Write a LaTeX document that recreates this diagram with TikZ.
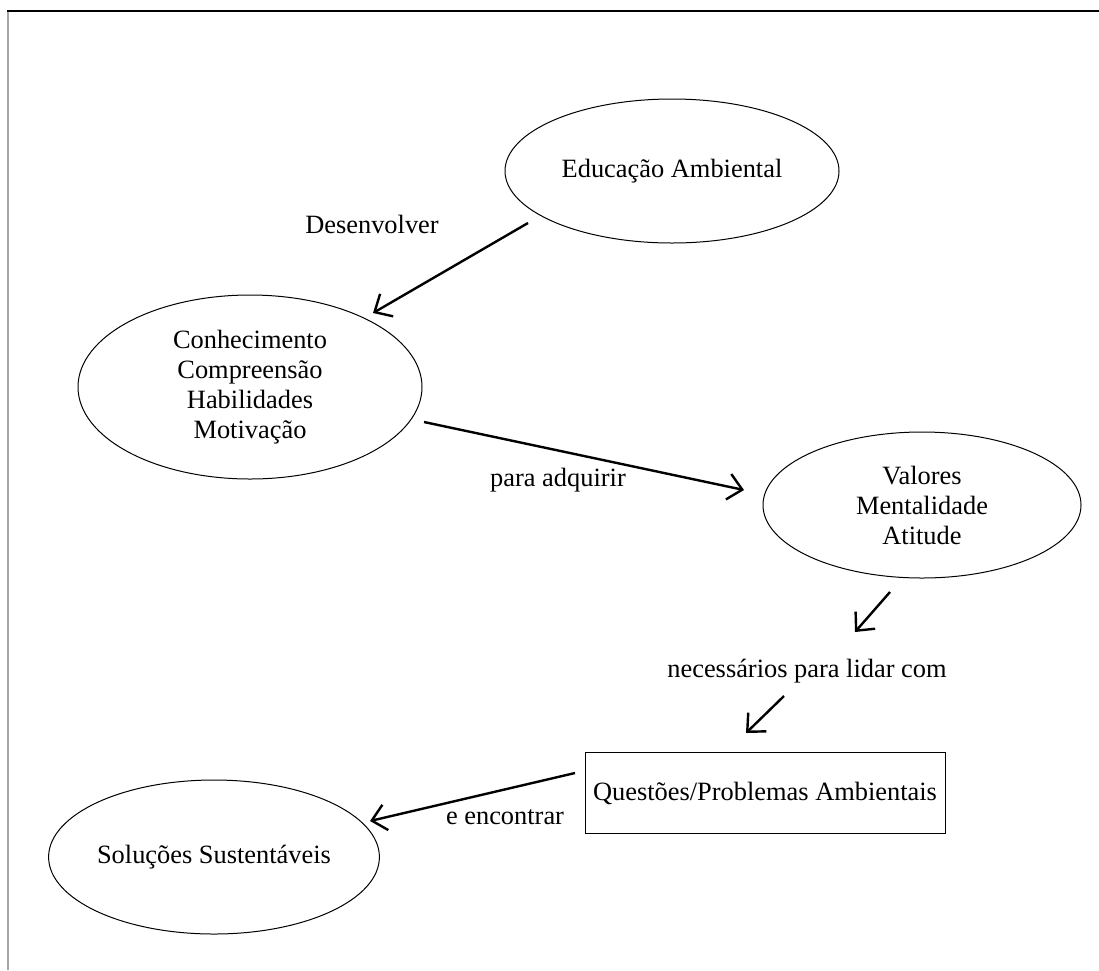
\documentclass[tikz,border=0pt]{standalone}
\usepackage{fontspec}
\setmainfont{Liberation Serif}
\usetikzlibrary{shapes.geometric,arrows.meta}
\begin{document}
\begin{tikzpicture}[x=1pt,y=-1pt,
  every node/.style={font=\fontsize{26.4}{30}\selectfont},
  ell/.style={draw, ellipse, line width=1pt, inner sep=0pt, align=center},
  lbl/.style={anchor=base},
  arr/.style={-{Straight Barb[length=14pt,width=26pt]}, line width=2.4pt}]
\useasboundingbox (0,0) rectangle (1099,970);
\draw[line width=2pt, gray!70] (8,970) -- (8,11);
\draw[line width=2pt] (7,11) -- (1099,11);

\node[ell, minimum width=334pt, minimum height=144pt] (edu) at (672,171) {Educação Ambiental};
\node[ell, minimum width=344pt, minimum height=184pt] (con) at (250,387) {Conhecimento\\Compreensão\\Habilidades\\Motivação};
\node[ell, minimum width=318pt, minimum height=146pt] (val) at (922,505) {Valores\\Mentalidade\\Atitude};
\node[draw, line width=1pt, minimum width=360pt, minimum height=81pt, inner sep=0pt] (que) at (765,793) {Questões/Problemas Ambientais};
\node[ell, minimum width=318pt, minimum height=154pt] (sol) at (214,857) {Soluções Sustentáveis};

\node[lbl] (l1) at (372,233) {Desenvolver};
\node[lbl] (l2) at (558,486) {para adquirir};
\node[lbl] (l3) at (807,677) {necessários para lidar com};
\node[lbl] (l4) at (505,824) {e encontrar};

\coordinate (a1s) at (528,223); \coordinate (a1e) at (373,313);
\coordinate (a2s) at (424,422); \coordinate (a2e) at (744,490);
\coordinate (a3s) at (890,592); \coordinate (a3e) at (855,632);
\coordinate (a4s) at (784,696); \coordinate (a4e) at (746,733);
\coordinate (a5s) at (575,773); \coordinate (a5e) at (370,821);

\draw[arr] (a1s) -- (a1e);
\draw[arr] (a2s) -- (a2e);
\draw[arr] (a3s) -- (a3e);
\draw[arr] (a4s) -- (a4e);
\draw[arr] (a5s) -- (a5e);
\end{tikzpicture}
\end{document}
